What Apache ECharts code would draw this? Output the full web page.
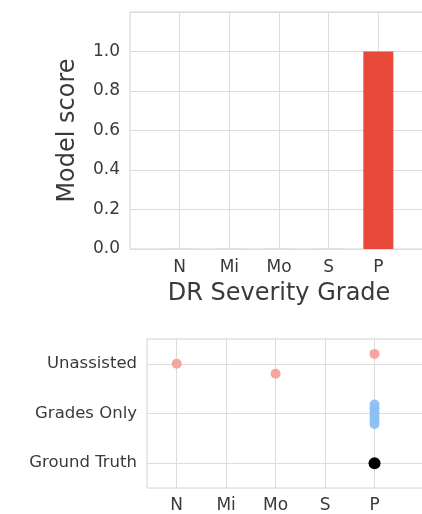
<!DOCTYPE html>
<html>
<head>
<meta charset="utf-8">
<script src="https://cdn.jsdelivr.net/npm/echarts@6/dist/echarts.min.js"></script>
<style>html,body{margin:0;padding:0;background:#fff;overflow:hidden}#c{width:428px;height:514px}</style>
</head>
<body>
<div id="c"></div>
<script>
// ---- data ----
var grades = ['N', 'Mi', 'Mo', 'S', 'P'];
var modelScores = [0.003, 0.003, 0.003, 0.003, 1.0];
var yTickLabels = ['0.0', '0.2', '0.4', '0.6', '0.8', '1.0'];
var rowLabels = ['Ground Truth', 'Grades Only', 'Unassisted'];
// [gradeIndex, rowPosition]
var unassisted = [[0, 2.0], [2, 1.8], [4, 2.2]];
var gradesOnly = [[4, 1.18], [4, 1.1], [4, 1.02], [4, 0.94], [4, 0.86], [4, 0.79]];
var groundTruth = [[4, 0.0]];

// ---- chart ----
var FONT = 'DejaVu Sans';
var TXT = '#3a3a3a';
var GRID_C = '#dcdcdc';
var gradeIdx = grades.map(function (g, i) { return i; });
var yTickVals = yTickLabels.map(function (s) { return parseFloat(s); });
var rowIdx = rowLabels.map(function (r, i) { return i; });

var chart = echarts.init(document.getElementById('c'), null, { renderer: 'canvas' });
chart.setOption({
  animation: false,
  backgroundColor: '#fff',
  textStyle: { fontFamily: FONT },
  grid: [
    { left: 130, top: 12, right: 0, bottom: 265, show: true, borderColor: '#d2d2d2', borderWidth: 1 },
    { left: 147, top: 339, right: 4, bottom: 26, show: true, borderColor: '#d2d2d2', borderWidth: 1 }
  ],
  xAxis: [
    {
      gridIndex: 0, type: 'value', min: -1, max: 5,
      name: 'DR Severity Grade', nameLocation: 'middle', nameGap: 33,
      nameTextStyle: { fontSize: 24, color: TXT, fontFamily: FONT },
      axisLine: { show: false },
      axisTick: { show: false, customValues: gradeIdx },
      axisLabel: { customValues: gradeIdx, margin: 10, fontSize: 17, color: TXT, fontFamily: FONT,
        formatter: function (v) { return grades[Math.round(v)] || ''; } },
      splitLine: { show: true, lineStyle: { color: GRID_C, width: 1 } }
    },
    {
      gridIndex: 1, type: 'value', min: -0.6, max: 5,
      axisLine: { show: false },
      axisTick: { show: false, customValues: gradeIdx },
      axisLabel: { customValues: gradeIdx, margin: 9, fontSize: 17, color: TXT, fontFamily: FONT,
        formatter: function (v) { return grades[Math.round(v)] || ''; } },
      splitLine: { show: true, lineStyle: { color: GRID_C, width: 1 } }
    }
  ],
  yAxis: [
    {
      gridIndex: 0, type: 'value', min: 0, max: 1.2, interval: 0.2,
      name: 'Model score', nameLocation: 'middle', nameGap: 50,
      nameTextStyle: { fontSize: 24, color: TXT, fontFamily: FONT },
      axisLine: { show: false }, axisTick: { show: false },
      axisLabel: { margin: 10, fontSize: 17, color: TXT, fontFamily: FONT,
        formatter: function (v) {
          for (var i = 0; i < yTickVals.length; i++) { if (Math.abs(yTickVals[i] - v) < 1e-6) return yTickLabels[i]; }
          return '';
        } },
      splitLine: { show: true, lineStyle: { color: GRID_C, width: 1 } }
    },
    {
      gridIndex: 1, type: 'value', min: -0.5, max: 2.5,
      axisLine: { show: false },
      axisTick: { show: false, customValues: rowIdx },
      axisLabel: { customValues: rowIdx, margin: 10, fontSize: 16.5, color: TXT, fontFamily: FONT,
        formatter: function (v) { return rowLabels[Math.round(v)] || ''; } },
      splitLine: { show: true, lineStyle: { color: GRID_C, width: 1 } }
    }
  ],
  series: [
    {
      type: 'bar', xAxisIndex: 0, yAxisIndex: 0, barWidth: 30,
      data: modelScores.map(function (v, i) { return [i, v]; }),
      itemStyle: { color: function (p) { return p.value[1] > 0.05 ? '#e8493b' : '#e6dcdc'; } }
    },
    {
      type: 'scatter', xAxisIndex: 1, yAxisIndex: 1, symbolSize: 10,
      data: unassisted, itemStyle: { color: '#f5a09a', opacity: 0.95 }
    },
    {
      type: 'scatter', xAxisIndex: 1, yAxisIndex: 1, symbolSize: 10,
      data: gradesOnly, itemStyle: { color: '#8cbff5', opacity: 0.95 }
    },
    {
      type: 'scatter', xAxisIndex: 1, yAxisIndex: 1, symbolSize: 12,
      data: groundTruth, itemStyle: { color: '#000000', opacity: 1 }
    }
  ]
});
</script>
</body>
</html>
